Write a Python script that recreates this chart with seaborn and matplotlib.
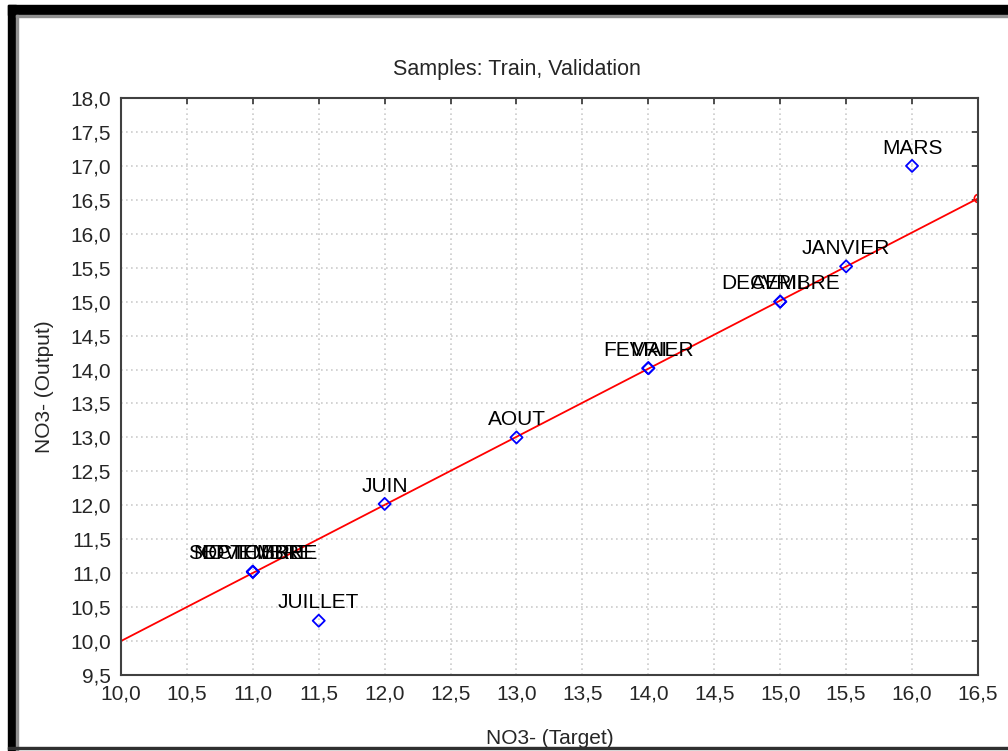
import numpy as np
import pandas as pd
import matplotlib
matplotlib.use("Agg")
import matplotlib.pyplot as plt
from matplotlib.patches import Rectangle
from matplotlib.ticker import MultipleLocator, FuncFormatter
import seaborn as sns

# Observed vs predicted NO3- per month
months = ['JANVIER', 'FEVRIER', 'MARS', 'AVRIL', 'MAI', 'JUIN',
          'JUILLET', 'AOUT', 'SEPTEMBRE', 'OCTOBRE', 'NOVEMBRE', 'DECEMBRE']
target = [15.5, 14.0, 16.0, 15.0, 14.0, 12.0, 11.5, 13.0, 11.0, 11.0, 11.0, 15.0]
output = [15.52, 14.02, 17.0, 15.0, 14.02, 12.02, 10.3, 13.0, 11.02, 11.02, 11.02, 15.0]

# fitted line end points
fit_x = [10.0, 16.5]
fit_y = [10.0, 16.52]

df = pd.DataFrame({'month': months, 'target': target, 'output': output})

sns.set_style('white')
plt.rcParams['font.family'] = ['Liberation Sans', 'DejaVu Sans']

fig = plt.figure(figsize=(10.08, 7.51), dpi=100)
ax = fig.add_axes([0.12, 0.1012, 0.8502, 0.7683])

sns.lineplot(x=fit_x, y=fit_y, ax=ax, color='#ff0000', linewidth=1.3)
ax.plot(fit_x[-1:], fit_y[-1:], marker='o', mfc='none', mec='#ff0000',
        ms=6, mew=1.2, clip_on=True)
sns.scatterplot(data=df, x='target', y='output', ax=ax, marker='D',
                facecolor='none', edgecolor='#0000ff', linewidth=1.3, s=38,
                zorder=5)

for m, xv, yv in zip(months, target, output):
    ax.annotate(m, (xv, yv), xytext=(0, 6), textcoords='offset points',
                ha='center', va='bottom', fontsize=15, color='black')

ax.set_xlim(10, 16.5)
ax.set_ylim(9.5, 18)
ax.xaxis.set_major_locator(MultipleLocator(0.5))
ax.yaxis.set_major_locator(MultipleLocator(0.5))
fmt = FuncFormatter(lambda v, p: f'{v:.1f}'.replace('.', ','))
ax.xaxis.set_major_formatter(fmt)
ax.yaxis.set_major_formatter(fmt)
ax.tick_params(direction='in', length=4, width=1.2, color='#303030',
               top=True, right=True, labelsize=15, pad=7)
ax.grid(True, color='#cccccc', linestyle=(0, (1, 2)), linewidth=1.2)
for s in ax.spines.values():
    s.set_color('#404040')
    s.set_linewidth(1.5)

fig.text(517 / 1008, 1 - 70 / 751, 'Samples: Train, Validation',
         fontsize=15.5, ha='center', va='center')
ax.set_xlabel('NO3- (Target)', fontsize=15, labelpad=18)
ax.set_ylabel('NO3- (Output)', fontsize=15, labelpad=12)

# window frame of the screenshot
W, H = 1008, 751
def px(x, y, w, h, c):
    fig.patches.append(Rectangle((x / W, 1 - (y + h) / H), w / W, h / H,
                                 transform=fig.transFigure, color=c, zorder=10))
px(8, 5, 1000, 10, 'black')
px(8, 5, 8, 746, 'black')
px(16, 15, 992, 2, '#909090')
px(16, 15, 2, 736, '#909090')
px(8, 747, 1000, 2, '#303030')

fig.savefig('out.png', dpi=100)
